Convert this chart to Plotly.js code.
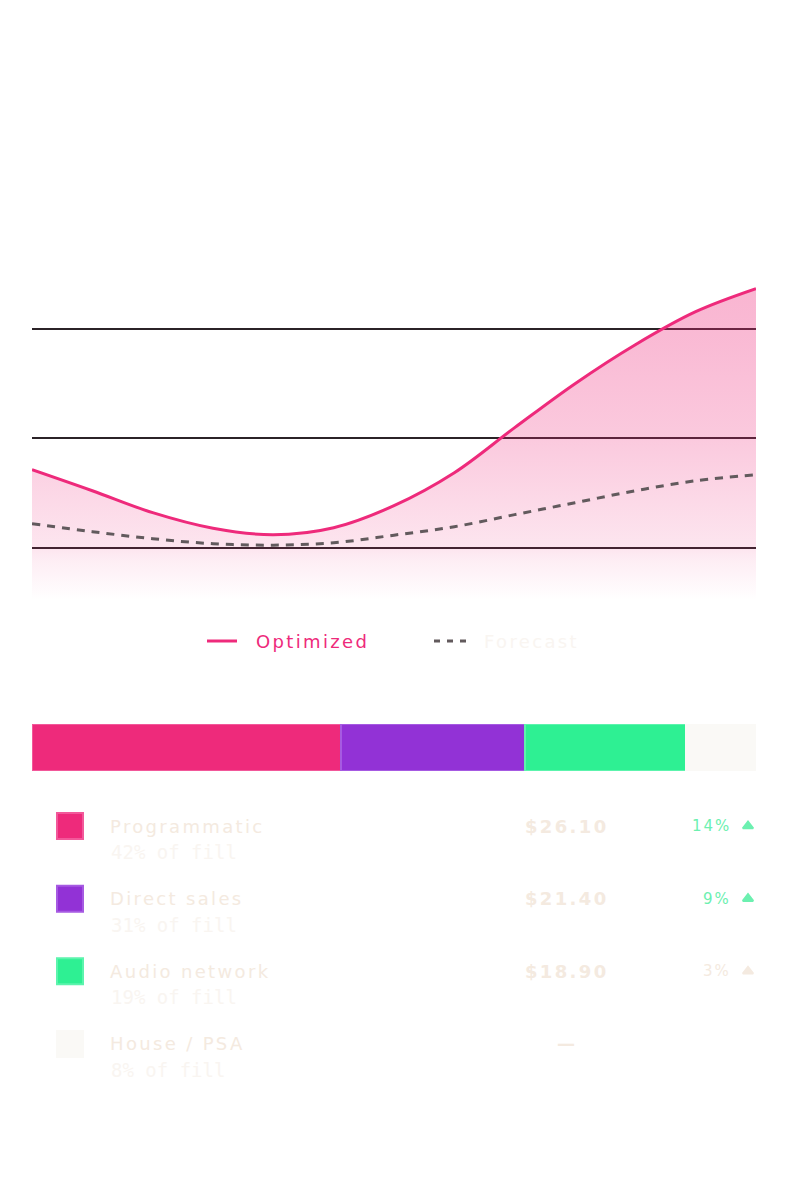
<!DOCTYPE html>
<html>
<head>
<meta charset="utf-8">
<script src="https://cdn.plot.ly/plotly-3.0.1.min.js"></script>
<style>
  body { margin: 0; background: #ffffff; }
  #chart { width: 788px; height: 1182px; }
  /* the original uses a wide grotesque, DejaVu + tracking gets close.
     set on every text so plotly's hidden measuring node sees it too */
  text { letter-spacing: 0.13em; }
  text[style*="Mono"] { letter-spacing: 0; }
</style>
</head>
<body>
<div id="chart"></div>
<script>
// eCPM trend, 13 weeks
const weeks = ['W1', 'W2', 'W3', 'W4', 'W5', 'W6', 'W7', 'W8', 'W9', 'W10', 'W11', 'W12', 'W13'];
const optimized = [17.14, 15.22, 13.22, 11.80, 11.21, 11.85, 13.86, 16.86, 20.97, 24.98, 28.53, 31.54, 33.64];
const forecast = [12.22, 11.49, 10.85, 10.39, 10.26, 10.48, 11.17, 11.94, 13.04, 14.13, 15.22, 16.13, 16.68];
const gridValues = [10, 20, 30];

// demand mix
const channels = ['Programmatic', 'Direct sales', 'Audio network', 'House / PSA'];
const mixShare = [42.7, 25.4, 22.2, 9.7];
const fillPct = [42, 31, 19, 8];
const ecpm = [26.10, 21.40, 18.90, null];
const changePct = [14, 9, 3, null];

const channelColors = ['#ee2a7b', '#9232d6', '#2ef093', '#faf9f6'];
const channelEdges = ['#f2589a', '#a65ae2', '#5cf4ad', '#faf9f6'];

const PINK = '#ee2a7b';
const DASH = '#625a5d';
const PALE = '#f4eae0';
const PALER = '#f9f5f1';
const UP = '#6cf0b0';

const W = 788, H = 1182;
const px = v => v / W;
const py = v => 1 - v / H;

const SANS = 'DejaVu Sans';
const MONO = 'DejaVu Sans Mono';

const traces = [];

// trend lines
traces.push({
    x: weeks,
    y: optimized,
    type: 'scatter',
    mode: 'lines',
    line: { color: PINK, width: 3, shape: 'spline', smoothing: 1 },
    fill: 'tozeroy',
    fillgradient: {
        type: 'vertical',
        start: 5.26,
        stop: 34.43,
        colorscale: [
            [0, 'rgba(238,42,123,0)'],
            [0.12, 'rgba(238,42,123,0.08)'],
            [0.16, 'rgba(238,42,123,0.12)'],
            [0.5, 'rgba(238,42,123,0.25)'],
            [0.8, 'rgba(238,42,123,0.32)'],
            [1, 'rgba(238,42,123,0.35)']
        ]
    },
    hoverinfo: 'skip'
});
traces.push({
    x: weeks,
    y: forecast,
    type: 'scatter',
    mode: 'lines',
    line: { color: DASH, width: 3, shape: 'spline', smoothing: 1, dash: '8px,7px' },
    hoverinfo: 'skip'
});

// mix bar
channels.forEach((name, i) => {
    traces.push({
        x: [mixShare[i]],
        y: ['mix'],
        type: 'bar',
        orientation: 'h',
        xaxis: 'x2',
        yaxis: 'y2',
        marker: {
            color: channelColors[i],
            line: { color: channelEdges[i], width: 2 }
        },
        hoverinfo: 'skip'
    });
});

// swatches in the list
traces.push({
    x: channels.map(() => 70),
    y: channels,
    type: 'scatter',
    mode: 'markers',
    xaxis: 'x3',
    yaxis: 'y3',
    marker: {
        symbol: 'square',
        size: 26,
        color: channelColors,
        line: { color: channelEdges, width: 2 }
    },
    hoverinfo: 'skip'
});

// change arrows
const withChange = channels.filter((c, i) => changePct[i] !== null);
const changeColor = changePct.filter(v => v !== null).map(v => v >= 5 ? UP : PALE);
traces.push({
    x: withChange.map(() => 748),
    y: withChange,
    type: 'scatter',
    mode: 'markers',
    xaxis: 'x3',
    yaxis: 'y3',
    marker: { symbol: 'triangle-up', size: 9, color: changeColor, line: { color: changeColor, width: 2 } },
    hoverinfo: 'skip'
});

const annotations = [];

channels.forEach((name, i) => {
    annotations.push({
        xref: 'x3', yref: 'y3', x: 108, y: name,
        text: name, showarrow: false, xanchor: 'left', yanchor: 'middle',
        font: { family: SANS, size: 18, color: PALE }
    });
    annotations.push({
        xref: 'x3', yref: 'y3', x: 109, y: name, yshift: -26,
        text: fillPct[i] + '% of fill', showarrow: false, xanchor: 'left', yanchor: 'middle',
        font: { family: MONO, size: 19, color: PALER }
    });
    annotations.push({
        xref: 'x3', yref: 'y3', x: 567, y: name,
        text: ecpm[i] === null ? '—' : '$' + ecpm[i].toFixed(2),
        showarrow: false, xanchor: 'center', yanchor: 'middle',
        font: { family: SANS, size: 18, color: PALE, weight: 'bold' }
    });
    if (changePct[i] !== null) {
        annotations.push({
            xref: 'x3', yref: 'y3', x: 733, y: name,
            text: changePct[i] + '%', showarrow: false, xanchor: 'right', yanchor: 'middle',
            font: { family: SANS, size: 15, color: changePct[i] >= 5 ? UP : PALE }
        });
    }
});

// legend, drawn by hand to keep the original spacing
annotations.push({
    xref: 'paper', yref: 'paper', x: px(254), y: py(641),
    text: 'Optimized', showarrow: false, xanchor: 'left', yanchor: 'middle',
    font: { family: SANS, size: 18, color: PINK }
});
annotations.push({
    xref: 'paper', yref: 'paper', x: px(482), y: py(641),
    text: 'Forecast', showarrow: false, xanchor: 'left', yanchor: 'middle',
    font: { family: SANS, size: 18, color: PALER }
});

const shapes = [
    { type: 'line', xref: 'paper', yref: 'paper', x0: px(207), x1: px(237), y0: py(641), y1: py(641),
      line: { color: PINK, width: 3 } },
    { type: 'line', xref: 'paper', yref: 'paper', x0: px(434), x1: px(466), y0: py(641), y1: py(641),
      line: { color: DASH, width: 3, dash: '6px,7px' } }
];

const layout = {
    width: W,
    height: H,
    margin: { l: 0, r: 0, t: 0, b: 0 },
    paper_bgcolor: '#ffffff',
    plot_bgcolor: 'rgba(0,0,0,0)',
    showlegend: false,
    barmode: 'stack',
    bargap: 0,
    xaxis: {
        domain: [px(32), px(756)],
        range: [0, weeks.length - 1],
        showgrid: false, zeroline: false, showticklabels: false, ticks: '', showline: false
    },
    yaxis: {
        domain: [py(600), py(280)],
        range: [5.26, 34.43],
        tickvals: gridValues,
        showgrid: true, gridcolor: '#2b2327', gridwidth: 2,
        zeroline: false, showticklabels: false, ticks: '', showline: false
    },
    xaxis2: {
        domain: [px(32), px(756)],
        range: [0, mixShare.reduce((a, b) => a + b, 0)],
        anchor: 'y2',
        showgrid: false, zeroline: false, showticklabels: false, ticks: ''
    },
    yaxis2: {
        domain: [py(771), py(724)],
        range: [-0.5, 0.5],
        anchor: 'x2',
        showgrid: false, zeroline: false, showticklabels: false, ticks: ''
    },
    xaxis3: {
        domain: [0, 1],
        range: [0, W],
        anchor: 'y3',
        showgrid: false, zeroline: false, showticklabels: false, ticks: ''
    },
    yaxis3: {
        domain: [py(1080.3), py(789.7)],
        type: 'category',
        categoryarray: channels,
        range: [3.5, -0.5],
        anchor: 'x3',
        showgrid: false, zeroline: false, showticklabels: false, ticks: ''
    },
    annotations: annotations,
    shapes: shapes
};

Plotly.newPlot('chart', traces, layout, { staticPlot: true, displayModeBar: false });
</script>
</body>
</html>
